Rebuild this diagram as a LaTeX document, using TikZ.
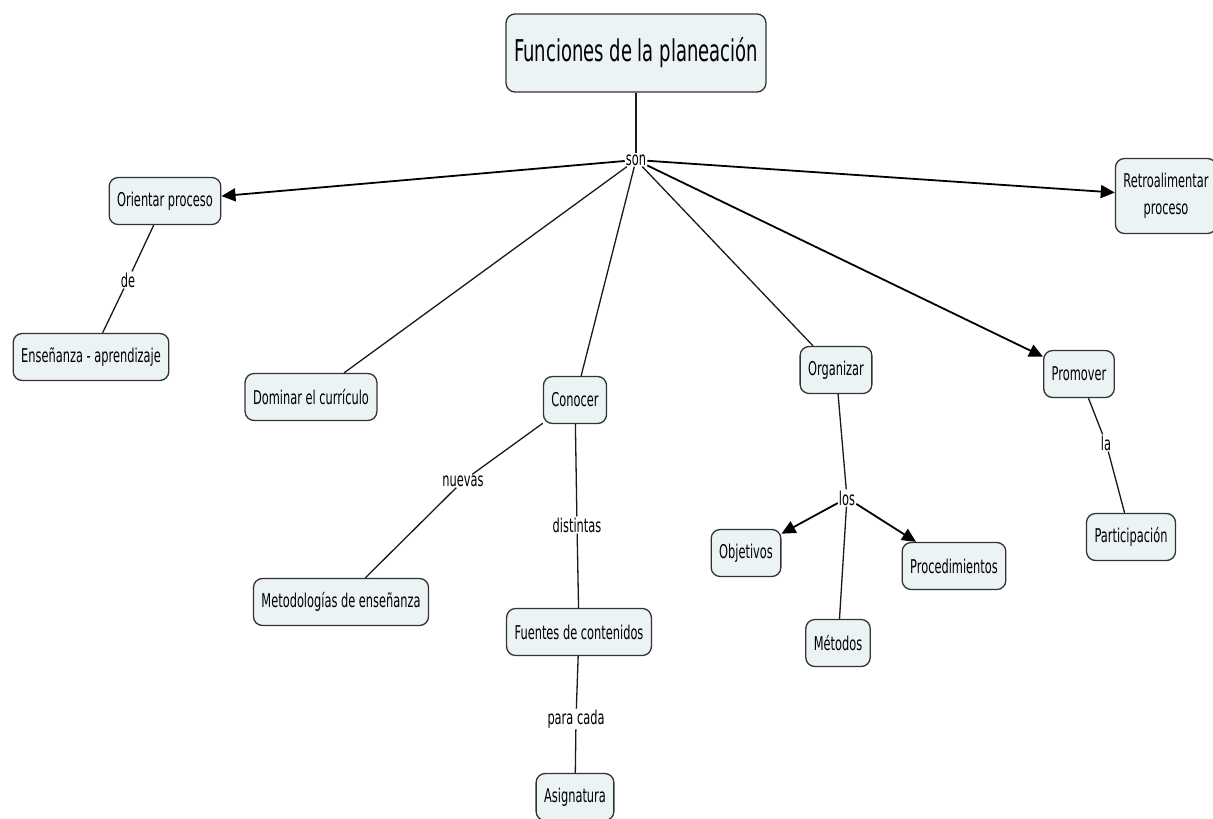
\documentclass[tikz,border=0pt]{standalone}
\usepackage{fontspec}
\setmainfont{DejaVu Sans}[FakeStretch=0.6]
\usetikzlibrary{arrows.meta}

\begin{document}
\begin{tikzpicture}[x=1pt,y=-1pt,
  concept/.style={draw=black!80,line width=1.3pt,fill={rgb,255:red,236;green,243;blue,245},
    rounded corners=9pt,inner xsep=8pt,minimum height=47pt,font=\fontsize{19}{27}\selectfont},
  link/.style={fill=white,inner sep=1pt,font=\fontsize{19}{23}\selectfont},
  line/.style={black!90,line width=1.3pt},
  arr/.style={black,line width=1.8pt,-{Triangle[length=14pt,width=13pt]}}]
\useasboundingbox (0,0) rectangle (1213,819);

\node[concept,minimum height=78pt,font=\fontsize{30}{36}\selectfont] (title) at (636,53) {Funciones de la planeación};
\node[link] (son) at (636,160) {son};

\node[concept] (orientar) at (165,201) {Orientar proceso};
\node[concept] (ensenanza) at (91,357) {Enseñanza - aprendizaje};
\node[link] (de) at (128,280) {de};
\node[concept,align=center,minimum height=75pt] (retro) at (1166,196) {Retroalimentar\\proceso};
\node[concept] (dominar) at (311,397) {Dominar el currículo};
\node[concept] (conocer) at (575,400) {Conocer};
\node[link] (nuevas) at (463,481) {nuevas};
\node[concept] (metodologias) at (341,602) {Metodologías de enseñanza};
\node[link] (distintas) at (577,525) {distintas};
\node[concept] (fuentes) at (579,632) {Fuentes de contenidos};
\node[link] (paracada) at (576,719) {para cada};
\node[concept] (asignatura) at (575,797) {Asignatura};
\node[concept] (organizar) at (836,370) {Organizar};
\node[link] (los) at (847,498) {los};
\node[concept] (objetivos) at (746,553) {Objetivos};
\node[concept] (procedimientos) at (954,566) {Procedimientos};
\node[concept] (metodos) at (838,643) {Métodos};
\node[concept] (promover) at (1079,374) {Promover};
\node[link] (la) at (1106,443) {la};
\node[concept] (participacion) at (1131,537) {Participación};

\draw[line] (title) -- (son);
\draw[arr] (son) -- (orientar);
\draw[arr] (son) -- (retro);
\draw[arr] (son) -- (promover);
\draw[line] (son) -- (dominar);
\draw[line] (son) -- (conocer);
\draw[line] (son) -- (organizar);

\draw[line] (orientar) -- (de) -- (ensenanza);
\draw[line] (conocer) -- (nuevas) -- (metodologias);
\draw[line] (conocer) -- (distintas) -- (fuentes);
\draw[line] (fuentes) -- (paracada) -- (asignatura);
\draw[line] (organizar) -- (los) -- (metodos);
\draw[arr] (los) -- (objetivos);
\draw[arr] (los) -- (procedimientos);
\draw[line] (promover) -- (la) -- (participacion);

\end{tikzpicture}
\end{document}
